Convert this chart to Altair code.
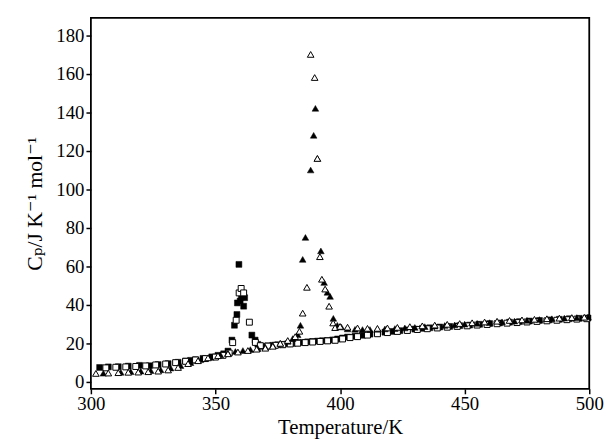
import altair as alt
import pandas as pd

# Filled squares
fs_t = [303.5, 307, 311, 315, 319.5, 323.5, 327, 331, 335, 338, 340, 342, 345, 348.5, 351, 353.3, 355,
        356.6, 357.6, 358.6, 358.8, 359.4, 359.9, 360.4, 361.3, 361.7, 364.6, 365.9, 367, 369, 371, 373,
        375, 377, 379, 381, 383, 385, 387, 389, 391, 393, 395, 397, 399, 401, 403, 406, 409, 412, 415,
        418, 421, 424, 427, 430, 433, 436, 440, 444, 448, 452, 456, 460, 464, 468, 472, 476, 480, 484,
        488, 492, 496, 499.5]
fs_y = [7.5, 7.8, 7.9, 8.2, 8.6, 8.4, 9.0, 9.5, 10.2, 10.8, 11.2, 11.5, 12.2, 13.0, 13.8, 14.6, 16,
        21.7, 29.4, 35, 41, 61, 42, 44, 39.3, 43.7, 24.3, 21.7, 19.5, 18.5, 18.7, 19, 19.3, 19.5, 19.8,
        20, 20.3, 20.5, 20.8, 21, 21.2, 21.4, 21.5, 21.8, 22.3, 22.8, 23.3, 23.7, 24.2, 24.8, 25.3,
        25.8, 26.2, 26.6, 27, 27.4, 27.8, 28.1, 28.5, 28.8, 29.2, 29.5, 29.9, 30.3, 30.6, 31, 31.3,
        31.6, 31.9, 32.2, 32.5, 32.8, 33, 33.2]

# Open squares
os_t = [306, 310, 314, 318, 322, 326, 330, 334, 338, 342, 346, 350, 353, 355.5, 356.9, 358.3, 359.5,
        360.3, 361.3, 363.6, 366, 368, 371, 374, 377, 380, 383, 386, 389, 392, 395, 398, 401, 404, 407,
        411, 415, 419, 423, 427, 431, 435, 439, 443, 447, 451, 455, 459, 463, 467, 471, 475, 479, 483,
        487, 491, 495, 499]
os_y = [7.3, 7.6, 7.8, 8.0, 8.3, 8.8, 9.3, 10, 10.7, 11.4, 12.1, 12.9, 13.8, 15, 20.4, 32, 46.2,
        48.5, 46.2, 31, 20.5, 18.8, 18.6, 19.0, 19.3, 19.7, 20.1, 20.4, 20.7, 21.0, 21.3, 21.6, 22.3,
        23, 23.5, 24.3, 25, 25.6, 26.2, 26.7, 27.2, 27.6, 28, 28.4, 28.8, 29.1, 29.5, 29.8, 30.2, 30.5,
        30.8, 31.1, 31.4, 31.7, 32, 32.3, 32.6, 32.8]

# Filled triangles
ft_t = [305, 312, 316, 320, 324, 328, 332, 336, 340, 344, 348, 352, 355, 358, 361, 364, 367, 370,
        373, 376, 379, 381, 383, 384.1, 385, 386.1, 388.2, 389.4, 390.1, 390.9, 392.3, 393.6, 394.9,
        396, 397.3, 398.9, 400.5, 403, 406, 409, 412, 415, 418, 422, 426, 430, 434, 438, 442, 446, 450,
        455, 460, 465, 470, 475, 480, 485, 490, 495, 499.5]
ft_y = [4.5, 5.0, 5.3, 5.6, 5.9, 6.3, 7.2, 8.5, 10, 11.5, 12.8, 14, 15, 15.8, 16.3, 16.8, 17.3, 18,
        19, 20, 21, 22.5, 24.5, 29.4, 63.6, 75, 110, 128, 142, 116, 68, 51.6, 46.5, 44.4, 33, 29.4,
        28.5, 27.5, 27.3, 27.2, 27.2, 27.3, 27.5, 27.7, 28, 28.3, 28.7, 29, 29.3, 29.6, 30, 30.4, 30.8,
        31.2, 31.6, 32, 32.4, 32.8, 33.1, 33.4, 33.7]

# Open triangles
ot_t = [302, 307, 311, 315, 319, 323, 327, 331, 335, 339, 343, 347, 351, 355, 359, 363, 366.5, 370,
        373, 376, 379, 382, 383.7, 385, 386.7, 388.2, 389.8, 390.9, 391.9, 392.7, 394, 395.6, 397.2,
        398, 400, 403, 407, 411, 415, 419, 423, 428, 433, 438, 443, 448, 453, 458, 463, 468, 473, 478,
        483, 488, 493, 498]
ot_y = [4.4, 4.6, 4.8, 5.0, 5.1, 5.3, 5.6, 6.2, 7.5, 9.5, 11, 12.5, 13.6, 14.6, 15.5, 16.3, 17, 17.5,
        18.5, 20, 21.5, 23.5, 26.3, 35.7, 49.1, 170, 158, 116, 65, 53.3, 48.2, 39.3, 30.6, 28.2, 28.8,
        28.4, 28, 27.8, 27.8, 28, 28.3, 28.7, 29.1, 29.5, 29.9, 30.3, 30.7, 31.1, 31.5, 31.9, 32.2,
        32.5, 32.8, 33.1, 33.4, 33.6]

x_ticks = [300, 350, 400, 450, 500]
y_ticks = [0, 20, 40, 60, 80, 100, 120, 140, 160, 180]

FONT = "'Liberation Serif', 'DejaVu Serif', serif"

xs = alt.Scale(domain=[300, 500], nice=False, zero=False)
ys = alt.Scale(domain=[-3.6, 189], nice=False, zero=False)

xax = alt.Axis(values=x_ticks, title="Temperature/K", grid=False, tickSize=5, tickColor="black",
               tickWidth=1.5, domain=False, labelFont=FONT, labelFontSize=19, labelColor="black",
               titleFont=FONT, titleFontSize=21, titleFontWeight="normal", titleColor="black",
               labelPadding=1, titlePadding=3, labelFlush=False)
yax = alt.Axis(values=y_ticks, title="Cₚ/J K⁻¹ mol⁻¹", grid=False, tickSize=5, tickColor="black",
               tickWidth=1.5, domain=False, labelFont=FONT, labelFontSize=19, labelColor="black",
               titleFont=FONT, titleFontSize=22, titleFontWeight="normal", titleColor="black",
               labelPadding=2, titlePadding=10)


def layer(t, y, shape, filled, size):
    df = pd.DataFrame({"T": t, "Cp": y})
    if filled:
        mk = alt.Chart(df).mark_point(shape=shape, filled=True, fill="black", stroke="black",
                                      strokeWidth=0.5, size=size, opacity=1)
    else:
        mk = alt.Chart(df).mark_point(shape=shape, filled=True, fill="white", stroke="black",
                                      strokeWidth=1, size=size, opacity=1)
    return mk.encode(x=alt.X("T:Q", scale=xs, axis=xax), y=alt.Y("Cp:Q", scale=ys, axis=yax))


chart = alt.layer(
    layer(fs_t, fs_y, "square", True, 36),
    layer(os_t, os_y, "square", False, 36),
    layer(ft_t, ft_y, "triangle-up", True, 45),
    layer(ot_t, ot_y, "triangle-up", False, 45),
).properties(
    width=505, height=376,
    autosize=alt.AutoSizeParams(type="none"),
    padding={"left": 84, "top": 7, "right": 19, "bottom": 56},
    background="white",
).configure_view(stroke="black", strokeWidth=1.8)

chart.save("out.html", embed_options={"renderer": "svg", "actions": False})
